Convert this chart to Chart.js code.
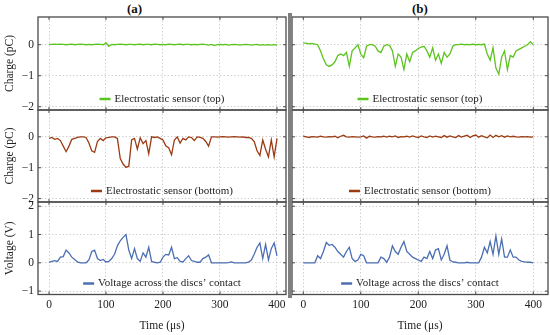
<!DOCTYPE html>
<html>
<head>
<meta charset="utf-8">
<script src="https://cdn.jsdelivr.net/npm/chart.js@4.4.1/dist/chart.umd.min.js"></script>
<style>
  body { margin: 0; background: #fff; width: 550px; height: 335px; position: relative; overflow: hidden; }
  canvas { position: absolute; }
  .lbl { position: absolute; font: bold 13px "Liberation Serif", serif; color: #111; }
  #sep { position: absolute; left: 288px; top: 13px; width: 3.5px; height: 285px; background: #808080; z-index: 5; }
</style>
</head>
<body>
<div class="lbl" style="left:127px;top:1px">(a)</div>
<div class="lbl" style="left:412px;top:1px">(b)</div>
<div id="sep"></div>
<script>
// time axis (µs), one sample every 5 µs
var times = [0,5,10,15,20,25,30,35,40,45,50,55,60,65,70,75,80,85,90,95,
  100,105,110,115,120,125,130,135,140,145,150,155,160,165,170,175,180,185,190,195,
  200,205,210,215,220,225,230,235,240,245,250,255,260,265,270,275,280,285,290,295,
  300,305,310,315,320,325,330,335,340,345,350,355,360,365,370,375,380,385,390,395,400];

// (a) top sensor charge, pC
var topA = [0.01,0.01,0.02,0.01,0.02,0.01,0,0.01,0.02,0,
  0.01,0.02,0.01,0,0.01,0,0.01,0.02,0.01,0,
  0.06,-0.05,0.01,0,0.01,0.02,0.01,0,0.01,0.01,
  0,0.01,0.02,0,0.01,0.01,0,0.02,0.01,0,
  0.01,0,0.02,0.01,0,0.01,0.02,0,0.01,0.01,
  0,0.01,0,0.01,0.02,0,-0.01,0.01,-0.03,0,
  0.01,0,0.01,-0.01,0,0.01,0,-0.01,0,0.01,
  0,-0.01,0,0.01,-0.01,0,-0.01,0,-0.01,0,-0.01];
// (a) bottom sensor charge, pC
var bottomA = [-0.05,-0.02,-0.08,-0.05,-0.12,-0.3,-0.48,-0.3,-0.08,-0.05,
  -0.02,0,0,-0.02,-0.2,-0.45,-0.5,-0.15,-0.05,-0.12,
  -0.03,-0.02,0,0,-0.05,-0.7,-0.88,-0.99,-0.95,-0.1,
  -0.05,-0.4,-0.03,-0.22,-0.12,-0.55,0,-0.02,0,-0.05,
  -0.1,-0.3,-0.35,-0.58,-0.1,0,-0.2,-0.05,-0.1,0,
  -0.02,-0.12,0,-0.02,-0.05,-0.15,-0.3,0,0,-0.01,
  0,0.01,0,-0.01,0,0.01,0,-0.01,0,-0.02,
  -0.02,-0.05,-0.15,-0.45,-0.6,-0.1,-0.4,-0.65,-0.1,-0.65,-0.05];
// (a) contact voltage, V
var voltA = [0.02,0.05,0.08,0.05,0.2,0.22,0.45,0.35,0.2,0.12,
  0.03,0,0,0,0.1,0.4,0.45,0.15,0.08,0.12,
  0.03,0.05,0.15,0.3,0.6,0.78,0.9,1.0,0.45,0.15,
  0.5,0.15,0.05,0.35,0.2,0.55,0.05,0.02,0,0.02,
  0.2,0.3,0.28,0.55,0.15,0.18,0.05,0.03,0.15,0.25,
  0.08,0.05,0.02,0.02,0.15,0.2,0.28,0,0,0,
  0,0,0,0.01,0.03,0,0,0,0,0,
  0.02,0.1,0.3,0.55,0.7,0.15,0.65,0.1,0.5,0.7,0.25];

// (b) top sensor charge, pC
var topB = [0.05,0.05,0.03,0.04,0.02,0,-0.2,-0.45,-0.65,-0.7,
  -0.65,-0.55,-0.35,-0.3,-0.35,-0.25,-0.7,-0.2,-0.1,0,
  -0.3,-0.42,-0.05,0,0,-0.05,-0.2,-0.25,-0.05,0,
  -0.02,-0.2,-0.7,-0.3,-0.4,-0.8,-0.3,-0.55,-0.25,-0.2,
  -0.12,-0.08,-0.05,-0.2,-0.4,-0.1,-0.5,-0.3,-0.6,-0.25,
  -0.4,-0.3,-0.05,0,0,0.02,0,0.01,0,0.02,
  0,0.01,0,0.02,-0.3,-0.5,-0.1,-0.75,-0.95,-0.4,
  -0.2,-0.8,-0.35,-0.4,-0.2,-0.15,-0.1,-0.05,0,0.1,0];
// (b) bottom sensor charge, pC
var bottomB = [0.02,0,-0.02,0.01,0,-0.01,0.02,0,-0.01,0.01,
  0,0.02,-0.03,0.02,0.05,0,-0.01,0.01,0,-0.01,
  0,0.03,-0.04,0.02,0,-0.01,0.01,0,0.02,-0.01,
  0.02,0,0.03,-0.02,0.01,0,0.02,-0.01,0.03,0,
  -0.02,0.03,0,-0.02,0.03,-0.01,0.02,0,-0.02,0.04,
  -0.01,0.03,0,-0.02,0.04,-0.01,0.02,0.05,-0.02,0.03,
  0.06,-0.01,0.04,0,-0.03,0.06,-0.02,0.05,0,0.04,
  -0.01,0.03,0,0.02,0,-0.01,0.01,0,0.01,-0.01,0];
// (b) contact voltage, V
var voltB = [0,0,0,0,0,0.25,0.15,0.4,0.72,0.62,
  0.65,0.55,0.4,0.3,0.2,0.4,0.55,0.15,0.05,0.1,
  0.3,0.25,0,0,0,0,0,0.2,0.15,0.02,
  0.2,0.6,0.4,0.3,0.55,0.75,0.4,0.3,0.2,0.15,
  0.1,0.05,0.2,0.15,0.4,0.15,0.45,0.5,0.1,0.3,
  0.6,0.1,0.03,0.02,0,0,0,0.02,0,0,
  0,0,0.2,0.55,0.35,0.75,0.3,0.95,0.3,0.85,
  0.2,0.2,0.45,0.2,0.2,0.1,0.05,0.03,0.02,0.02,0];

var timeTicks = [0, 100, 200, 300, 400];
var chargeTicks = [-2, -1, 0];
var voltTicks = [-1, 0, 1, 2];

var GREEN = '#5cc41e', BROWN = '#9c3b12', BLUE = '#4c6fb3';
var SERIF = '"Liberation Serif", "Times New Roman", serif';

Chart.defaults.font.family = SERIF;
Chart.defaults.color = '#222';

function minus(v) { return v < 0 ? '\u2212' + Math.abs(v) : '' + v; }

// frame + small inward ticks around each panel
var framePlugin = {
  id: 'frame',
  afterDraw: function(chart) {
    var a = chart.chartArea, ctx = chart.ctx;
    var xs = chart.scales.x, ys = chart.scales.y;
    ctx.save();
    ctx.strokeStyle = '#4a4a4a';
    ctx.lineWidth = 1;
    ctx.beginPath();
    xs.ticks.forEach(function(t) {
      var p = xs.getPixelForValue(t.value);
      ctx.moveTo(p, a.top); ctx.lineTo(p, a.top + 3);
      ctx.moveTo(p, a.bottom); ctx.lineTo(p, a.bottom - 3);
    });
    ys.ticks.forEach(function(t) {
      var p = ys.getPixelForValue(t.value);
      ctx.moveTo(a.left, p); ctx.lineTo(a.left + 3, p);
      ctx.moveTo(a.right, p); ctx.lineTo(a.right - 3, p);
    });
    ctx.stroke();
    ctx.lineWidth = 1.3;
    ctx.strokeRect(a.left, a.top, a.right - a.left, a.bottom - a.top);
    ctx.restore();
  }
};

// legend drawn inside the plot, near the bottom
var innerLegend = {
  id: 'innerLegend',
  afterDraw: function(chart) {
    var a = chart.chartArea, ctx = chart.ctx, ds = chart.data.datasets[0];
    ctx.save();
    ctx.font = '11px ' + SERIF;
    var tw = ctx.measureText(ds.label).width;
    var x0 = (a.left + a.right) / 2 - (15 + tw) / 2;
    var y = a.bottom - 11;
    ctx.strokeStyle = ds.borderColor;
    ctx.lineWidth = 2.5;
    ctx.beginPath(); ctx.moveTo(x0, y); ctx.lineTo(x0 + 11, y); ctx.stroke();
    ctx.fillStyle = '#222';
    ctx.textBaseline = 'middle';
    ctx.fillText(ds.label, x0 + 15, y);
    ctx.restore();
  }
};

var rowTop = [15, 108, 200];
var rowH = [97, 96, 135];
var rowY = [[-2.105, 0.894], [-2.11, 0.87], [-1.12, 2.15]];
var colLeft = [0, 290];
var colW = [288, 260];
var colX = [[-19.3, 415.8], [-19.65, 425.6]];

function panel(col, row, values, label, color) {
  var c = document.createElement('canvas');
  c.width = colW[col]; c.height = rowH[row];
  c.style.left = colLeft[col] + 'px';
  c.style.top = rowTop[row] + 'px';
  document.body.appendChild(c);

  var bottomRow = row === 2;
  var yTicks = bottomRow ? voltTicks : chargeTicks;
  var pts = values.map(function(v, i) { return { x: times[i], y: v }; });

  new Chart(c, {
    type: 'line',
    data: { datasets: [{ label: label, data: pts, borderColor: color, borderWidth: 1.3,
      pointRadius: 0, tension: 0, fill: false }] },
    options: {
      responsive: false,
      animation: false,
      layout: { padding: { top: 2, right: 2, bottom: bottomRow ? 0 : 2, left: col === 1 ? 2 : 0 } },
      plugins: { legend: { display: false }, tooltip: { enabled: false } },
      scales: {
        x: {
          type: 'linear', min: colX[col][0], max: colX[col][1],
          afterBuildTicks: function(s) { s.ticks = timeTicks.map(function(v) { return { value: v }; }); },
          afterFit: function(s) { s.height = bottomRow ? 40.5 : 0; s.paddingLeft = 0; s.paddingRight = 0; },
          grid: { color: '#c4c4c4', lineWidth: 0.8, drawTicks: false },
          border: { display: false, dash: [1.5, 2] },
          ticks: { display: bottomRow, padding: 4, maxRotation: 0, font: { size: 11.5 } },
          title: { display: bottomRow, text: 'Time (\u03bcs)', font: { size: 11.5 }, padding: { top: 0, bottom: 2 } }
        },
        y: {
          min: rowY[row][0], max: rowY[row][1],
          afterBuildTicks: function(s) { s.ticks = yTicks.map(function(v) { return { value: v }; }); },
          afterFit: function(s) { s.width = col === 0 ? 38 : 0; s.paddingTop = 0; s.paddingBottom = 0; },
          grid: { color: '#c4c4c4', lineWidth: 0.8, drawTicks: false },
          border: { display: false, dash: [1.5, 2] },
          ticks: { display: col === 0, padding: 4, font: { size: 11.5 }, callback: minus },
          title: { display: col === 0, text: bottomRow ? 'Voltage (V)' : 'Charge (pC)',
            font: { size: 11.5 }, padding: { top: 3, bottom: 0 } }
        }
      }
    },
    plugins: [framePlugin, innerLegend]
  });
}

panel(0, 0, topA, 'Electrostatic sensor (top)', GREEN);
panel(0, 1, bottomA, 'Electrostatic sensor (bottom)', BROWN);
panel(0, 2, voltA, 'Voltage across the discs\u2019 contact', BLUE);
panel(1, 0, topB, 'Electrostatic sensor (top)', GREEN);
panel(1, 1, bottomB, 'Electrostatic sensor (bottom)', BROWN);
panel(1, 2, voltB, 'Voltage across the discs\u2019 contact', BLUE);
</script>
</body>
</html>
